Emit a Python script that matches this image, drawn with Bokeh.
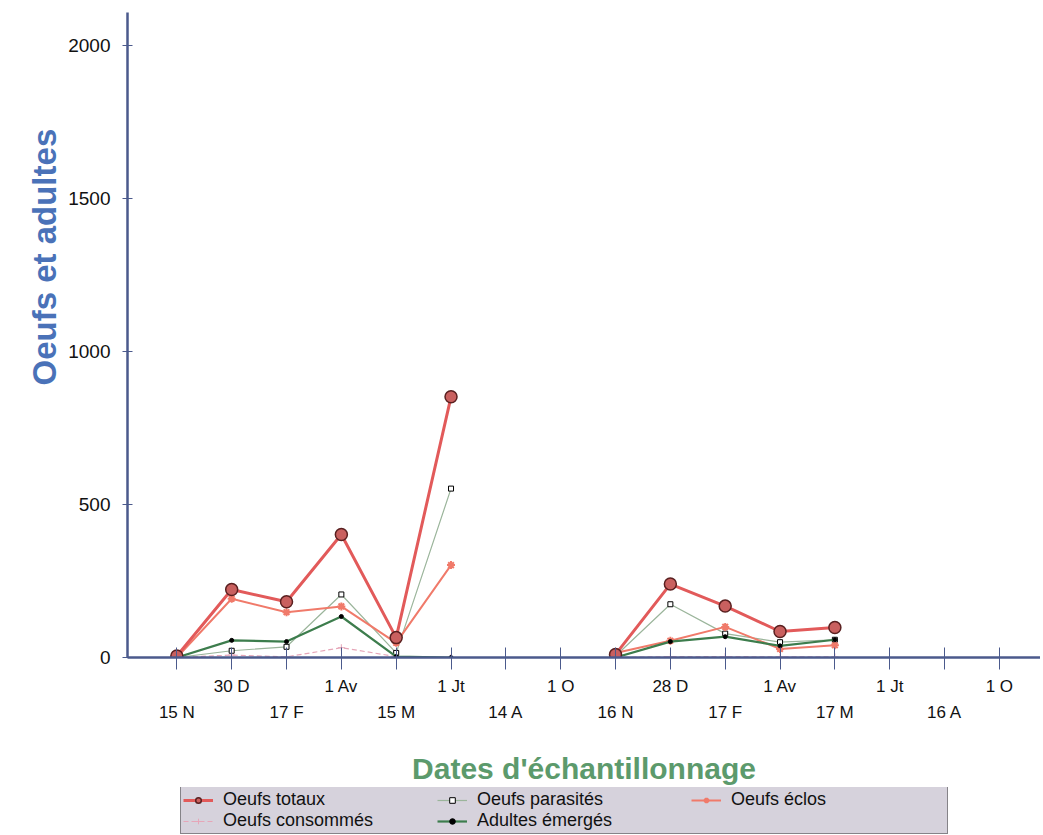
import numpy as np
from bokeh.plotting import figure
from bokeh.layouts import column
from bokeh.models import (Range1d, FixedTicker, LinearAxis, Legend, LegendItem, Title)
from bokeh.embed import file_html
from bokeh.resources import INLINE

nan = float("nan")

# ---- data -------------------------------------------------------------
dates = ["15 N", "30 D", "17 F", "1 Av", "15 M", "1 Jt", "14 A", "1 O",
         "16 N", "28 D", "17 F", "1 Av", "17 M", "1 Jt", "16 A", "1 O"]
oeufs_totaux = [5, 222, 182, 402, 65, 852, nan, nan,
                10, 240, 168, 85, 98, nan, nan, nan]
oeufs_parasites = [0, 22, 35, 206, 15, 552, nan, nan,
                   5, 174, 78, 50, 58, nan, nan, nan]
oeufs_eclos = [0, 192, 148, 167, 48, 302, nan, nan,
               15, 55, 100, 28, 40, nan, nan, nan]
oeufs_consommes = [0, 8, 2, 32, 3, 0, nan, nan,
                   0, 3, 3, 2, 2, nan, nan, nan]
adultes_emerges = [0, 56, 52, 134, 3, 0, nan, nan,
                   0, 52, 68, 38, 58, nan, nan, nan]
y_ticks = [0, 500, 1000, 1500, 2000]

x = np.arange(len(dates))

AXIS = "#4b5a8c"
FONT = "Liberation Sans"

STYLES = {
    "tot": dict(line=dict(line_color="#e25a5a", line_width=3),
                mark=dict(marker="circle", size=12, fill_color="#c9605f",
                          line_color="#5a2020", line_width=1.5)),
    "par": dict(line=dict(line_color="#9bb59b", line_width=1.2),
                mark=dict(marker="square", size=5, fill_color="white",
                          line_color="black", line_width=1)),
    "ecl": dict(line=dict(line_color="#f07a6a", line_width=2),
                mark=dict(marker="asterisk", size=8, line_color="#f07a6a",
                          line_width=2)),
    "con": dict(line=dict(line_color="#e6a6b8", line_width=1.2, line_dash="5 3"),
                mark=dict(marker="cross", size=7, line_color="#e6a6b8",
                          line_width=1)),
    "adu": dict(line=dict(line_color="#3d7d4d", line_width=2.2),
                mark=dict(marker="circle", size=4, fill_color="black",
                          line_color="black")),
}

p = figure(width=1040, height=787, output_backend="svg", toolbar_location=None,
           x_range=Range1d(-0.9, 15.75), y_range=Range1d(0, 2108),
           min_border_left=127, min_border_right=0, min_border_top=12,
           min_border_bottom=0)
p.outline_line_color = None
p.xgrid.visible = False
p.ygrid.visible = False
p.background_fill_color = "white"

# y axis
ya = p.yaxis[0]
ya.ticker = FixedTicker(ticks=y_ticks)
ya.axis_line_color = AXIS
ya.axis_line_width = 2.5
ya.major_tick_line_color = AXIS
ya.major_tick_in = 5
ya.major_tick_out = 5
ya.minor_tick_line_color = None
ya.major_label_text_font = FONT
ya.major_label_text_font_size = "19px"
ya.major_label_text_color = "#111111"
ya.major_label_standoff = 12

p.add_layout(Title(text="Oeufs et adultes", align="left", offset=272,
                   text_font=FONT, text_font_size="33px", text_font_style="bold",
                   text_color="#4a72b8", standoff=5), "left")

# x axis (top row of labels)
xa = p.xaxis[0]
xa.ticker = FixedTicker(ticks=list(x))
xa.major_label_overrides = {int(i): (dates[i] if i % 2 == 1 else "") for i in x}
xa.axis_line_color = AXIS
xa.axis_line_width = 2.5
xa.major_tick_line_color = AXIS
xa.major_tick_in = 10
xa.major_tick_out = 12
xa.minor_tick_line_color = None
xa.major_label_text_font = FONT
xa.major_label_text_font_size = "17px"
xa.major_label_text_color = "#111111"
xa.major_label_standoff = 7

# second row of labels
xa2 = LinearAxis(ticker=FixedTicker(ticks=[int(i) for i in x if i % 2 == 0]),
                 major_label_overrides={int(i): dates[i] for i in x if i % 2 == 0})
xa2.axis_line_color = None
xa2.major_tick_line_color = None
xa2.minor_tick_line_color = None
xa2.major_tick_in = 0
xa2.major_tick_out = 0
xa2.major_label_standoff = 4
xa2.major_label_text_font = FONT
xa2.major_label_text_font_size = "17px"
xa2.major_label_text_color = "#111111"
xa2.axis_label = "Dates d'échantillonnage"
xa2.axis_label_text_font = FONT
xa2.axis_label_text_font_size = "30px"
xa2.axis_label_text_font_style = "bold"
xa2.axis_label_text_color = "#5c9a6c"
xa2.axis_label_standoff = 27
p.add_layout(xa2, "below")

# ---- series -------------------------------------------------------------
series = [("par", oeufs_parasites), ("ecl", oeufs_eclos), ("con", oeufs_consommes),
          ("adu", adultes_emerges), ("tot", oeufs_totaux)]
for key, vals in series:
    p.line(x, vals, **STYLES[key]["line"])
    p.scatter(x, vals, **STYLES[key]["mark"])

# ---- legend (own strip below the chart) ----------------------------------
lf = figure(width=1040, height=47, output_backend="svg", toolbar_location=None,
            x_axis_type=None, y_axis_type=None,
            x_range=Range1d(0, 1), y_range=Range1d(0, 1),
            min_border=0, min_border_left=0, min_border_right=0,
            min_border_top=0, min_border_bottom=0)
lf.outline_line_color = None
lf.xgrid.visible = False
lf.ygrid.visible = False

labels = {"tot": "Oeufs totaux", "par": "Oeufs parasités", "ecl": "Oeufs éclos",
          "con": "Oeufs consommés", "adu": "Adultes émergés"}
proxy = np.array([np.nan])
items = []
for key in ["tot", "par", "ecl", "con", "adu"]:
    rl = lf.line(proxy, proxy, **STYLES[key]["line"])
    rm = lf.scatter(proxy, proxy, **STYLES[key]["mark"])
    items.append(LegendItem(label=labels[key], renderers=[rl, rm]))

legend = Legend(items=items, orientation="horizontal", nrows=2, location=(53, 0),
                label_width=214, glyph_width=30, glyph_height=14, label_height=14,
                label_standoff=10, spacing=0, padding=2, margin=0,
                label_text_font=FONT, label_text_font_size="18px",
                label_text_color="#111111",
                background_fill_color="#d6d2dc", background_fill_alpha=1.0,
                border_line_color="#333333", border_line_width=1)
lf.add_layout(legend, "center")

layout = column(p, lf, spacing=0)
open("out.html", "w").write(file_html(layout, INLINE))
